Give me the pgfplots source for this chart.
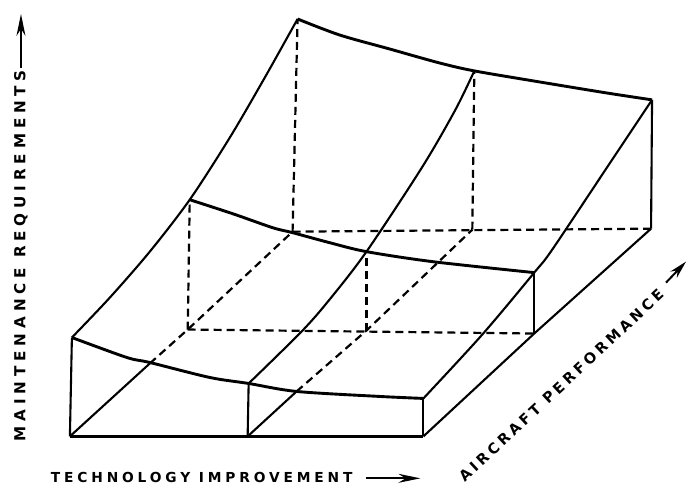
\documentclass[border=0pt]{standalone}
\usepackage{fontspec}
\setmainfont{DejaVu Sans}
\usepackage{pgfplots}
\pgfplotsset{compat=1.18}
\usetikzlibrary{arrows.meta}
\newfontfamily\lblfontA[LetterSpace=32]{DejaVu Sans Bold}
\newfontfamily\lblfontB[LetterSpace=28]{DejaVu Sans Bold}
\newfontfamily\lblfontC[LetterSpace=24]{DejaVu Sans Bold}
\begin{document}
\begin{tikzpicture}
\begin{axis}[
  scale only axis, width=343.5pt, height=246.5pt,
  xmin=0, xmax=687, ymin=0, ymax=493, y dir=reverse,
  hide axis, clip=false,
  solidl/.style={black, line width=1.45pt},
  thinl/.style={black, line width=1.05pt},
  dashl/.style={black, line width=1.1pt, dash pattern=on 4pt off 2.5pt},
]
\path (axis cs:0,0) rectangle (axis cs:687,493);
% --- surface curves along technology (x) ---
\addplot[solidl, smooth] coordinates {(72,338) (127,358) (150,363) (210,378) (249,384) (297,392) (380,397) (424,399)};
\addplot[solidl, smooth] coordinates {(190,200) (233,214) (273,228) (293,233) (330,243) (367,252) (433,262) (535,273)};
\addplot[solidl, smooth] coordinates {(298,19) (340,35) (390,49) (440,63) (475,71) (540,82) (607,93) (653,100)};
% --- surface curves along aircraft performance (y) ---
\addplot[thinl, smooth] coordinates {(72,338) (110,298) (150,252) (190,200) (230,138) (265,78) (298,19)};
\addplot[thinl, smooth] coordinates {(249,384) (302,332) (330,300) (367,252) (423,167) (456,110) (475,71)};
\addplot[thinl, smooth] coordinates {(424,399) (483,335) (535,273) (553,250) (607,169) (653,100)};
% --- base lines ---
\addplot[solidl] coordinates {(70,437) (424,437)};
\addplot[dashl] coordinates {(188,330) (535,334)};
\addplot[dashl] coordinates {(293,232) (652,229)};
\addplot[thinl] coordinates {(70,437) (150,364)};
\addplot[dashl] coordinates {(150,364) (188,330) (293,232)};
\addplot[thinl] coordinates {(248,437) (297,392)};
\addplot[dashl] coordinates {(297,392) (367,331) (473,230)};
\addplot[thinl] coordinates {(424,437) (535,334) (652,229)};
% --- verticals ---
\addplot[thinl] coordinates {(70,437) (72,338)};
\addplot[thinl] coordinates {(248,437) (249,384)};
\addplot[thinl] coordinates {(424,437) (424,399)};
\addplot[dashl] coordinates {(188,330) (190,200)};
\addplot[dashl] coordinates {(367,331) (367,252)};
\addplot[thinl] coordinates {(535,334) (535,273)};
\addplot[dashl] coordinates {(293,232) (298,19)};
\addplot[dashl] coordinates {(473,230) (475,71)};
\addplot[thinl] coordinates {(652,229) (653,100)};
% --- labels ---
\node[rotate=90, font=\lblfontA\fontsize{7.6}{8}\selectfont] at (axis cs:21,256) {MAINTENANCE REQUIREMENTS};
\draw[line width=1pt, -{Stealth[length=11pt,width=4.5pt]}] (axis cs:21,68) -- (axis cs:21,14);
\node[font=\lblfontB\fontsize{6.9}{8}\selectfont] at (axis cs:202,478) {TECHNOLOGY IMPROVEMENT};
\draw[line width=1pt, -{Stealth[length=11pt,width=4.5pt]}] (axis cs:367,479) -- (axis cs:421,479);
\node[rotate=43, font=\lblfontC\fontsize{7.3}{8}\selectfont] at (axis cs:562,386) {AIRCRAFT PERFORMANCE};
\draw[line width=1pt, -{Stealth[length=9pt,width=4.5pt]}] (axis cs:667,283) -- (axis cs:687,262);
\end{axis}
\end{tikzpicture}
\end{document}
